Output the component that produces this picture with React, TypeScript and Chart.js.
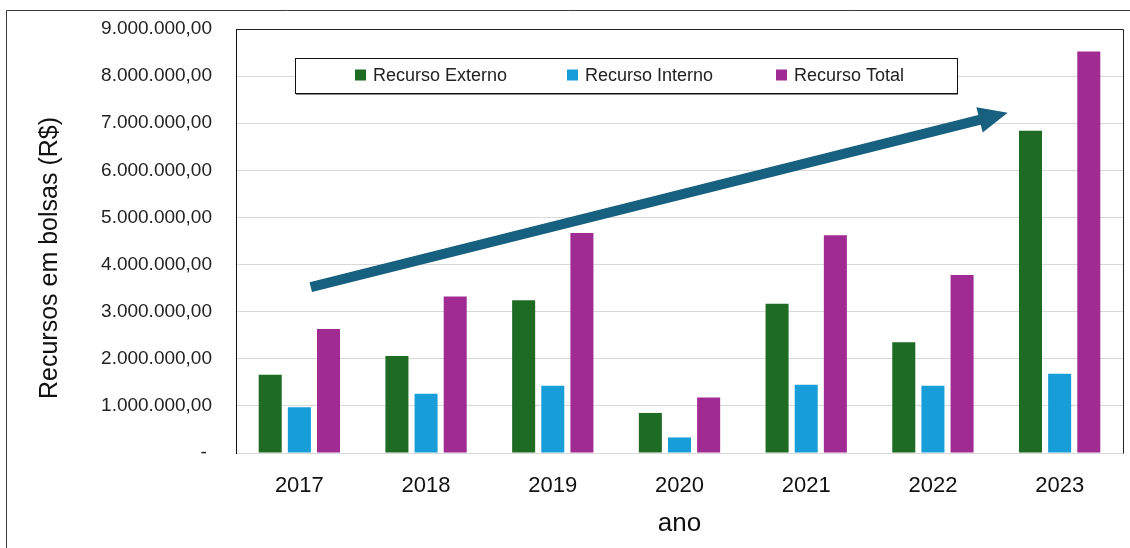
import React, { useEffect, useRef } from 'react';
import { Chart, registerables } from 'chart.js';

Chart.register(...registerables);

// ---- data ----
const years = ['2017', '2018', '2019', '2020', '2021', '2022', '2023'];
const recursoExterno = [1660000, 2060000, 3240000, 850000, 3170000, 2350000, 6840000];
const recursoInterno = [970000, 1260000, 1430000, 330000, 1450000, 1430000, 1680000];
const recursoTotal = [2630000, 3320000, 4670000, 1180000, 4620000, 3780000, 8520000];
const seriesLabels = ['Recurso Externo', 'Recurso Interno', 'Recurso Total'];
const yTickValues = [0, 1000000, 2000000, 3000000, 4000000, 5000000, 6000000, 7000000, 8000000, 9000000];
const yTitle = 'Recursos em bolsas (R$)';
const xTitle = 'ano';
// trend arrow, in data coordinates [category index, value]
const arrowFrom = [0.09, 3520000];
const arrowTo = [5.59, 7220000];

// ---- style ----
const FONT = "'Liberation Sans', Arial, sans-serif";
const COLORS = ['#1e6b24', '#179ed8', '#a02b93'];
const ARROW_COLOR = '#17607f';
const GRID = '#d9d9d9';

function fmt(v: number): string {
  if (v === 0) return '- ';
  const s = Math.round(v).toString().replace(/\B(?=(\d{3})+(?!\d))/g, '.');
  return s + ',00';
}

const decorPlugin = {
  id: 'decor',
  afterDraw(chart: any) {
    const ctx = chart.ctx;
    const ca = chart.chartArea;
    const xs = chart.scales.x;
    const ys = chart.scales.y;
    ctx.save();

    // outer border (top and left)
    ctx.strokeStyle = '#3a3a3a';
    ctx.lineWidth = 1;
    ctx.beginPath();
    ctx.moveTo(6.5, 548);
    ctx.lineTo(6.5, 10.5);
    ctx.lineTo(1130, 10.5);
    ctx.stroke();

    // plot frame: top and right
    ctx.strokeStyle = '#222';
    ctx.beginPath();
    ctx.moveTo(Math.round(ca.left) + 0.5, Math.round(ca.top) + 0.5);
    ctx.lineTo(Math.round(ca.right) + 0.5, Math.round(ca.top) + 0.5);
    ctx.lineTo(Math.round(ca.right) + 0.5, Math.round(ca.bottom) + 0.5);
    ctx.stroke();

    // trend arrow
    const x0 = xs.getPixelForValue(arrowFrom[0]);
    const y0 = ys.getPixelForValue(arrowFrom[1]);
    const x1 = xs.getPixelForValue(arrowTo[0]);
    const y1 = ys.getPixelForValue(arrowTo[1]);
    const ang = Math.atan2(y1 - y0, x1 - x0);
    const headLen = 29;
    const headHalf = 13;
    const bx = x1 - headLen * Math.cos(ang);
    const by = y1 - headLen * Math.sin(ang);
    ctx.strokeStyle = ARROW_COLOR;
    ctx.fillStyle = ARROW_COLOR;
    ctx.lineWidth = 10;
    ctx.lineCap = 'butt';
    ctx.beginPath();
    ctx.moveTo(x0, y0);
    ctx.lineTo(bx + 2 * Math.cos(ang), by + 2 * Math.sin(ang));
    ctx.stroke();
    ctx.beginPath();
    ctx.moveTo(x1, y1);
    ctx.lineTo(bx + headHalf * Math.sin(ang), by - headHalf * Math.cos(ang));
    ctx.lineTo(bx - headHalf * Math.sin(ang), by + headHalf * Math.cos(ang));
    ctx.closePath();
    ctx.fill();

    // legend box
    const lx = 295, ly = 58, lw = 662, lh = 35;
    ctx.fillStyle = '#ffffff';
    ctx.fillRect(lx, ly, lw, lh);
    ctx.strokeStyle = '#888';
    ctx.lineWidth = 1;
    ctx.beginPath();
    ctx.moveTo(lx + 1, ly + lh + 1.5);
    ctx.lineTo(lx + lw + 1, ly + lh + 1.5);
    ctx.stroke();
    ctx.strokeStyle = '#111';
    ctx.strokeRect(lx + 0.5, ly + 0.5, lw, lh);
    const itemX = [355, 567, 776];
    ctx.font = `18px ${FONT}`;
    ctx.textBaseline = 'middle';
    ctx.textAlign = 'left';
    chart.data.datasets.forEach((ds: any, i: number) => {
      ctx.fillStyle = ds.backgroundColor;
      ctx.fillRect(itemX[i], ly + lh / 2 - 6, 11, 11);
      ctx.fillStyle = '#222';
      ctx.fillText(ds.label, itemX[i] + 18, ly + lh / 2 + 1);
    });

    // y axis title
    ctx.save();
    ctx.translate(50, 258);
    ctx.rotate(-Math.PI / 2);
    ctx.font = `25px ${FONT}`;
    ctx.fillStyle = '#111';
    ctx.textAlign = 'center';
    ctx.textBaseline = 'middle';
    ctx.fillText(yTitle, 0, 0);
    ctx.restore();

    ctx.restore();
  },
};

export default function App() {
  const ref = useRef<HTMLCanvasElement | null>(null);
  useEffect(() => {
    if (!ref.current) return;
    const chart = new Chart(ref.current, {
      type: 'bar',
      data: {
        labels: years,
        datasets: [
          { label: seriesLabels[0], data: recursoExterno, backgroundColor: COLORS[0] },
          { label: seriesLabels[1], data: recursoInterno, backgroundColor: COLORS[1] },
          { label: seriesLabels[2], data: recursoTotal, backgroundColor: COLORS[2] },
        ],
      },
      options: {
        responsive: false,
        animation: false,
        devicePixelRatio: 1,
        layout: { padding: { top: 29, right: 7, left: 0, bottom: 0 } },
        plugins: { legend: { display: false }, tooltip: { enabled: false } },
        datasets: { bar: { categoryPercentage: 0.69, barPercentage: 0.79 } },
        scales: {
          x: {
            grid: { display: false, drawTicks: false },
            border: { display: true, color: GRID, width: 1 },
            ticks: { color: '#111', font: { family: FONT, size: 22 }, padding: 20 },
            title: { display: true, text: xTitle, color: '#111', font: { family: FONT, size: 26 }, padding: { top: 0, bottom: 9 } },
            afterFit(scale: any) { scale.height = 95; scale.paddingLeft = 0; scale.paddingRight = 0; },
          },
          y: {
            min: 0,
            max: 9000000,
            afterBuildTicks(scale: any) { scale.ticks = yTickValues.map((v) => ({ value: v })); },
            grid: { color: GRID, lineWidth: 1, drawTicks: false },
            border: { display: true, color: '#111', width: 1 },
            ticks: { color: '#222', font: { family: FONT, size: 19 }, padding: 24, callback: (v: any) => fmt(Number(v)) },
            afterFit(scale: any) { scale.width = 236; scale.paddingTop = 0; scale.paddingBottom = 0; },
          },
        },
      },
      plugins: [decorPlugin],
    });
    return () => chart.destroy();
  }, []);
  return (
    <div style={{ position: 'absolute', left: 0, top: 0, width: 1130, height: 548, background: '#fff' }}>
      <canvas ref={ref} width={1130} height={548} style={{ width: 1130, height: 548, display: 'block' }} />
    </div>
  );
}
